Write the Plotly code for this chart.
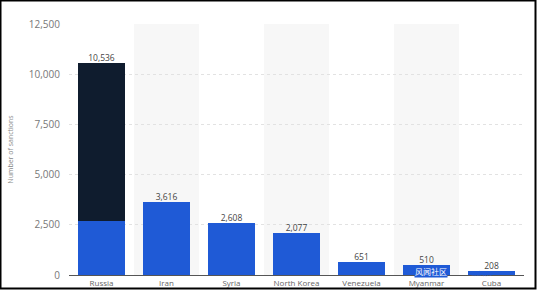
import plotly.graph_objects as go

categories = ["Russia", "Iran", "Syria", "North Korea", "Venezuela", "Myanmar", "Cuba"]
before_values = [2695, 3616, 2608, 2077, 651, 510, 208]
after_values = [7841, 0, 0, 0, 0, 0, 0]
totals = [b + a for b, a in zip(before_values, after_values)]
total_labels = [f"{t:,}" for t in totals]
y_ticks = [0, 2500, 5000, 7500, 10000, 12500]

W, H = 537, 290
L, R, T, B = 69, 13, 24, 15
pw, ph = W - L - R, H - T - B

fig = go.Figure()
fig.add_trace(go.Bar(x=categories, y=before_values, marker_color="#1f5ad6",
                     marker_line_width=0, hoverinfo="skip"))
fig.add_trace(go.Bar(x=categories, y=after_values, marker_color="#0f1c2e",
                     marker_line_width=0, hoverinfo="skip"))
fig.add_trace(go.Scatter(x=categories, y=totals, mode="text", text=total_labels,
                         textposition="top center",
                         textfont=dict(size=8.5, color="#444", family="Open Sans"),
                         hoverinfo="skip"))

shapes = []
for i in (1, 3, 5):
    shapes.append(dict(type="rect", xref="x", yref="paper", x0=i - 0.5, x1=i + 0.5,
                       y0=0, y1=1, fillcolor="#f7f7f7", line_width=0, layer="below"))
shapes.append(dict(type="rect", xref="paper", yref="paper",
                   x0=(0.5 - L) / pw, x1=(535.5 - L) / pw,
                   y0=-(288.5 - (H - B)) / ph, y1=1 + (T - 0.5) / ph,
                   line=dict(color="black", width=2), fillcolor="rgba(0,0,0,0)"))

fig.update_layout(
    width=W, height=H, barmode="stack", bargap=0.27, showlegend=False,
    margin=dict(l=L, r=R, t=T, b=B),
    paper_bgcolor="white", plot_bgcolor="white",
    font=dict(family="Open Sans", color="#666"),
    shapes=shapes,
    annotations=[
        dict(text="风闻社区", x=5, y=0, xref="x", yref="y", xanchor="center",
             yanchor="bottom", yshift=-3, xshift=4, showarrow=False,
             font=dict(size=8, color="white", family="Noto Sans CJK SC"),
             bgcolor="#1f5ad6", borderpad=0),
        dict(text="观察者网", x=6, y=0, xref="x", yref="y", xanchor="center",
             yanchor="bottom", showarrow=False, xshift=-10, yshift=-4,
             font=dict(size=5, color="#1f5ad6", family="Noto Sans CJK SC")),
    ],
)
fig.update_xaxes(showgrid=False, showline=True, linecolor="#555", linewidth=1,
                 ticks="", tickfont=dict(size=8, color="#666"), range=[-0.5, 6.5],
                 automargin=False, fixedrange=True)
fig.update_yaxes(range=[0, 12500], tickvals=y_ticks, tickformat=",",
                 showgrid=True, gridcolor="#e2e2e2", griddash="dot", gridwidth=1,
                 zeroline=False, tickfont=dict(size=10, color="#777"),
                 ticklabelstandoff=8, automargin=False,
                 title=dict(text="Number of sanctions", font=dict(size=7, color="#888"),
                            standoff=14))

fig.write_html("out.html")
